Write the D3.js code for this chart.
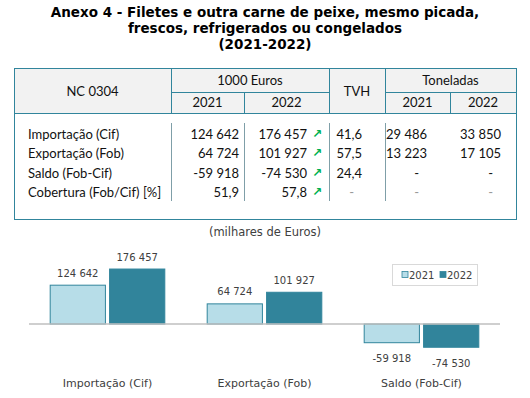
<!DOCTYPE html>
<html>
<head>
<meta charset="utf-8">
<script src="https://cdn.jsdelivr.net/npm/d3@7"></script>
<style>
  body { margin: 0; background: #fff; }
  svg { display: block; }
</style>
</head>
<body>
<svg id="svg" width="530" height="398"></svg>
<script>
// titulo
var titleLines = ["Anexo 4 - Filetes e outra carne de peixe, mesmo picada,",
                  "frescos, refrigerados ou congelados",
                  "(2021-2022)"];

// quadro
var rowLabels = ["Importação (Cif)", "Exportação (Fob)", "Saldo (Fob-Cif)", "Cobertura (Fob/Cif) [%]"];
var eur2021 = ["124 642", "64 724", "-59 918", "51,9"];
var eur2022 = ["176 457", "101 927", "-74 530", "57,8"];
var tvh = ["41,6", "57,5", "24,4", "-"];
var ton2021 = ["29 486", "13 223", "-", "-"];
var ton2022 = ["33 850", "17 105", "-", "-"];
var trend = ["up", "up", "up", "up"];

// grafico
var categories = ["Importação (Cif)", "Exportação (Fob)", "Saldo (Fob-Cif)"];
var years = ["2021", "2022"];
var values2021 = [124642, 64724, -59918];
var values2022 = [176457, 101927, -74530];

var svg = d3.select("svg");

var teal = "#31859c";
var tableFont = "Lato, 'Open Sans', sans-serif";
var chartFont = "'DejaVu Sans', Verdana, sans-serif";

// ---- titulo
svg.selectAll(".title")
    .data(titleLines)
    .enter().append("text")
    .attr("class", "title")
    .attr("x", 265)
    .attr("y", function (d, i) { return 12 + i * 16; })
    .attr("dominant-baseline", "central")
    .attr("text-anchor", "middle")
    .style("font-family", chartFont)
    .style("font-weight", "bold")
    .style("font-size", "13.5px")
    .style("fill", "#000")
    .text(function (d) { return d; });

// ---- quadro
var colX = [14, 171, 244, 329, 385, 450, 516];
var tTop = 68, tMid = 92, tHead = 113, tBottom = 219;
var rowY = d3.scalePoint().domain(d3.range(rowLabels.length)).range([134, 192]);

var tab = svg.append("g");

tab.append("rect")
    .attr("x", colX[0]).attr("y", tTop)
    .attr("width", colX[6] - colX[0]).attr("height", tHead - tTop)
    .attr("fill", "#f2f2f2");

function hline(x1, x2, y, col) {
    tab.append("line").attr("x1", x1).attr("x2", x2).attr("y1", y).attr("y2", y)
        .attr("stroke", col || teal).attr("stroke-width", 1).attr("shape-rendering", "crispEdges");
}
function vline(x, y1, y2, col) {
    tab.append("line").attr("x1", x).attr("x2", x).attr("y1", y1).attr("y2", y2)
        .attr("stroke", col || teal).attr("stroke-width", 1).attr("shape-rendering", "crispEdges");
}

hline(colX[1], colX[3], tMid);
hline(colX[4], colX[6], tMid);
hline(colX[0], colX[6], tHead);
[1, 3, 4].forEach(function (i) { vline(colX[i], tTop, tHead); });
[2, 5].forEach(function (i) { vline(colX[i], tMid, tHead); });
[1, 2, 3, 4].forEach(function (i) { vline(colX[i], 123, 201, "#7f9fa8"); });

tab.append("rect")
    .attr("x", colX[0] + 0.5).attr("y", tTop + 0.5)
    .attr("width", colX[6] - colX[0]).attr("height", tBottom - tTop)
    .attr("fill", "none").attr("stroke", teal);

var headers = [
    {t: "NC 0304", x: (colX[0] + colX[1]) / 2, y: 91},
    {t: "1000 Euros", x: (colX[1] + colX[3]) / 2, y: 80},
    {t: "2021", x: (colX[1] + colX[2]) / 2, y: 102},
    {t: "2022", x: (colX[2] + colX[3]) / 2, y: 102},
    {t: "TVH", x: (colX[3] + colX[4]) / 2, y: 91},
    {t: "Toneladas", x: (colX[4] + colX[6]) / 2, y: 80},
    {t: "2021", x: (colX[4] + colX[5]) / 2, y: 102},
    {t: "2022", x: (colX[5] + colX[6]) / 2, y: 102}
];
tab.selectAll(".hdr")
    .data(headers)
    .enter().append("text")
    .attr("class", "hdr")
    .attr("x", function (d) { return d.x; })
    .attr("y", function (d) { return d.y; })
    .attr("dominant-baseline", "central")
    .attr("text-anchor", "middle")
    .style("font-family", tableFont)
    .style("font-size", "13px")
    .style("fill", "#111")
    .text(function (d) { return d.t; });

// colunas de valores: [dados, borda direita do texto]
var cols = [[eur2021, 239], [eur2022, 307], [tvh, 362], [ton2021, 427], [ton2022, 501]];

rowLabels.forEach(function (lab, i) {
    var y = rowY(i);
    tab.append("text")
        .attr("x", 28).attr("y", y)
        .attr("dominant-baseline", "central")
        .style("font-family", tableFont).style("font-size", "13px").style("fill", "#111")
        .text(lab);
    cols.forEach(function (c) {
        var v = c[0][i];
        tab.append("text")
            .attr("x", v === "-" ? c[1] - 8 : c[1]).attr("y", y)
            .attr("dominant-baseline", "central")
            .attr("text-anchor", "end")
            .style("font-family", tableFont).style("font-size", "13px")
            .style("fill", v === "-" && i === 3 ? "#999" : "#111")
            .text(v);
    });
    if (trend[i] === "up") {
        tab.append("text")
            .attr("x", 317).attr("y", y)
            .attr("dominant-baseline", "central")
            .attr("text-anchor", "middle")
            .style("font-family", chartFont).style("font-size", "12px")
            .style("font-weight", "bold")
            .style("fill", "#00b050")
            .text("\u2197");
    }
});

// ---- grafico
var fmt = d3.formatLocale({decimal: ",", thousands: "\u00a0", grouping: [3], currency: ["", ""], minus: "-"}).format(",d");

var x0 = d3.scaleBand()
    .domain(categories)
    .range([29, 500])
    .paddingInner(0.27)
    .paddingOuter(0.135);

var x1 = d3.scaleBand()
    .domain(years)
    .range([0, x0.bandwidth()])
    .paddingInner(0.07);

var y = d3.scaleLinear()
    .domain([-100000, 200000])
    .range([355.2, 261.7]);

var color = d3.scaleOrdinal().domain(years).range(["#b7dde8", "#31849b"]);

svg.append("text")
    .attr("x", 265).attr("y", 232)
    .attr("dominant-baseline", "central")
    .attr("text-anchor", "middle")
    .style("font-family", chartFont).style("font-size", "11.5px").style("fill", "#404040")
    .text("(milhares de Euros)");

var data = categories.map(function (c, i) {
    return {cat: c, vals: [{year: "2021", v: values2021[i]}, {year: "2022", v: values2022[i]}]};
});

var group = svg.selectAll(".grp")
    .data(data)
    .enter().append("g")
    .attr("class", "grp")
    .attr("transform", function (d) { return "translate(" + x0(d.cat) + ",0)"; });

group.selectAll("rect")
    .data(function (d) { return d.vals; })
    .enter().append("rect")
    .attr("x", function (d) { return x1(d.year); })
    .attr("y", function (d) { return Math.min(y(d.v), y(0)); })
    .attr("width", x1.bandwidth())
    .attr("height", function (d) { return Math.abs(y(d.v) - y(0)); })
    .attr("fill", function (d) { return color(d.year); })
    .attr("stroke", teal)
    .attr("stroke-width", 1);

group.selectAll(".val")
    .data(function (d) { return d.vals; })
    .enter().append("text")
    .attr("class", "val")
    .attr("x", function (d) { return x1(d.year) + x1.bandwidth() / 2; })
    .attr("y", function (d) { return d.v >= 0 ? y(d.v) - 12 : y(d.v) + 16; })
    .attr("dominant-baseline", "central")
    .attr("text-anchor", "middle")
    .style("font-family", chartFont).style("font-size", "10px").style("fill", "#404040")
    .text(function (d) { return fmt(d.v); });

// eixo (linha do zero)
svg.append("line")
    .attr("x1", 29).attr("x2", 500)
    .attr("y1", y(0)).attr("y2", y(0))
    .attr("stroke", "#bfbfbf").attr("stroke-width", 1.5);

svg.append("g")
    .attr("transform", "translate(0,383)")
    .call(d3.axisBottom(x0).tickSize(0).tickPadding(0))
    .call(function (g) { g.select(".domain").remove(); })
    .selectAll("text")
    .attr("dy", null)
    .attr("y", 0)
    .attr("dominant-baseline", "central")
    .style("font-family", chartFont).style("font-size", "11px").style("fill", "#404040");

// legenda
var leg = svg.append("g").attr("transform", "translate(392,264)");
leg.append("rect")
    .attr("x", 0.5).attr("y", 0.5).attr("width", 85).attr("height", 21)
    .attr("fill", "#fff").attr("stroke", "#d9d9d9");
var item = leg.selectAll(".item")
    .data(years)
    .enter().append("g")
    .attr("class", "item")
    .attr("transform", function (d, i) { return "translate(" + (10 + i * 38) + ",0)"; });
item.append("rect")
    .attr("x", 0).attr("y", 7.5).attr("width", 6).attr("height", 6)
    .attr("fill", function (d) { return color(d); })
    .attr("stroke", teal).attr("stroke-width", 0.8);
item.append("text")
    .attr("x", 7).attr("y", 11)
    .attr("dominant-baseline", "central")
    .style("font-family", chartFont).style("font-size", "10px").style("fill", "#404040")
    .text(function (d) { return d; });
</script>
</body>
</html>
